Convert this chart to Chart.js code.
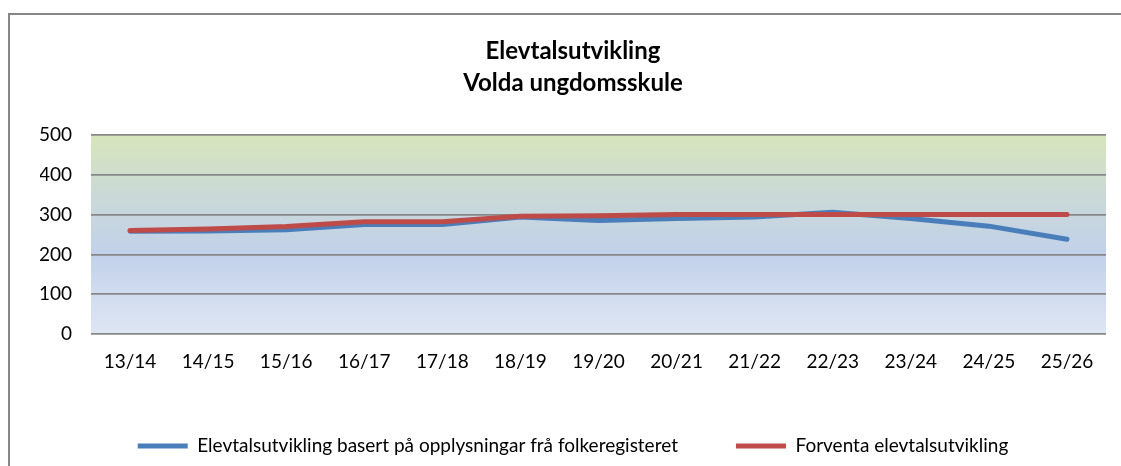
<!DOCTYPE html>
<html>
<head>
<meta charset="utf-8">
<script src="https://cdn.jsdelivr.net/npm/chart.js@4/dist/chart.umd.min.js"></script>
<style>
    html, body { margin: 0; padding: 0; background: #fff; overflow: hidden; }
    #wrap { position: relative; width: 1121px; height: 466px; }
</style>
</head>
<body>
<div id="wrap"><canvas id="chart"></canvas></div>
<script>
const categories = ['13/14', '14/15', '15/16', '16/17', '17/18', '18/19', '19/20', '20/21', '21/22', '22/23', '23/24', '24/25', '25/26'];
const registerValues = [258, 259, 262, 275, 275, 294, 285, 290, 294, 306, 290, 271, 238];
const expectedValues = [260, 264, 270, 282, 282, 296, 297, 300, 300, 300, 300, 300, 300];
const yTickLabels = ['0', '100', '200', '300', '400', '500'];
const titleLines = ['Elevtalsutvikling', 'Volda ungdomsskule'];
const seriesNames = ['Elevtalsutvikling basert på opplysningar frå folkeregisteret', 'Forventa elevtalsutvikling'];

const FONT = 'Lato, "Open Sans", sans-serif';
const LEGEND_HEIGHT = 87.5;

// plot fill + the outer frame of the chart object
const backdrop = {
    id: 'backdrop',
    beforeLayout(chart) {
        // legend padding doubles as item gap, so cap its box height
        const legend = chart.legend;
        if (legend && !legend.__capped) {
            const fit = legend.fit;
            legend.fit = function () {
                fit.call(this);
                this.height = LEGEND_HEIGHT;
            };
            legend.__capped = true;
        }
    },
    beforeDraw(chart) {
        const { ctx, chartArea: a } = chart;
        ctx.save();
        ctx.fillStyle = '#fff';
        ctx.fillRect(0, 0, chart.width, chart.height);

        const g = ctx.createLinearGradient(0, a.top, 0, a.bottom);
        g.addColorStop(0, '#d8e5bc');
        g.addColorStop(0.3, '#cad9d6');
        g.addColorStop(0.6, '#c2d1ea');
        g.addColorStop(1, '#dee6f3');
        ctx.fillStyle = g;
        ctx.fillRect(a.left, a.top, a.right - a.left, a.bottom - a.top);

        ctx.strokeStyle = '#878787';
        ctx.lineWidth = 2;
        ctx.beginPath();
        ctx.moveTo(9, chart.height + 10);
        ctx.lineTo(9, 14);
        ctx.lineTo(chart.width + 10, 14);
        ctx.stroke();
        ctx.restore();
    },
};

new Chart(document.getElementById('chart'), {
    type: 'line',
    data: {
        labels: categories,
        datasets: [
            {
                label: seriesNames[0],
                data: registerValues,
                borderColor: '#4a7ebb',
                backgroundColor: '#4a7ebb',
                borderWidth: 5,
                borderCapStyle: 'round',
                borderJoinStyle: 'round',
                pointRadius: 0,
                tension: 0,
                order: 1,
            },
            {
                label: seriesNames[1],
                data: expectedValues,
                borderColor: '#be4b48',
                backgroundColor: '#be4b48',
                borderWidth: 5,
                borderCapStyle: 'round',
                borderJoinStyle: 'round',
                pointRadius: 0,
                tension: 0,
                order: 0,
            },
        ],
    },
    options: {
        responsive: true,
        maintainAspectRatio: false,
        animation: false,
        layout: {
            padding: { left: 40, right: 15, top: 0, bottom: 0 },
        },
        plugins: {
            title: {
                display: true,
                text: titleLines,
                color: '#000',
                font: { family: FONT, size: 24, weight: 'bold', lineHeight: '32px' },
                padding: { top: 35, bottom: 36 },
            },
            legend: {
                position: 'bottom',
                labels: {
                    color: '#000',
                    font: { family: FONT, size: 19 },
                    usePointStyle: true,
                    pointStyle: 'line',
                    pointStyleWidth: 50,
                    padding: 58,
                    sort: (a, b) => a.datasetIndex - b.datasetIndex,
                },
            },
            tooltip: { enabled: false },
        },
        scales: {
            x: {
                offset: true,
                grid: { display: false, drawTicks: false },
                border: { display: false },
                ticks: {
                    color: '#000',
                    font: { family: FONT, size: 19 },
                    padding: 16.5,
                    maxRotation: 0,
                    autoSkip: false,
                },
                afterFit(scale) {
                    scale.height = 44.5;
                },
            },
            y: {
                min: 0,
                max: 500,
                grid: { color: '#878787', lineWidth: 1.7, drawTicks: false },
                border: { display: false },
                ticks: {
                    stepSize: 100,
                    color: '#000',
                    font: { family: FONT, size: 19 },
                    padding: 19,
                    callback(value, index) {
                        return yTickLabels[index];
                    },
                },
                afterFit(scale) {
                    scale.width = 51;
                },
            },
        },
    },
    plugins: [backdrop],
});
</script>
</body>
</html>
